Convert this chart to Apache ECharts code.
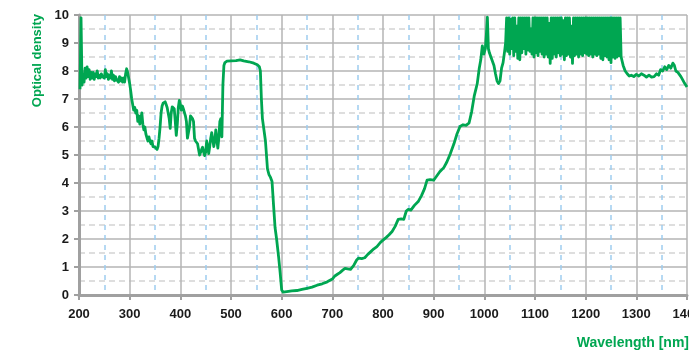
<!DOCTYPE html>
<html>
<head>
<meta charset="utf-8">
<script src="https://cdn.jsdelivr.net/npm/echarts@6/dist/echarts.min.js"></script>
<style>
html,body{margin:0;padding:0;background:#fff;}
#chart{width:689px;height:353px;}
</style>
</head>
<body>
<div id="chart"></div>
<script>
// Wavelength axis ticks (nm)
var xTicks = [200, 300, 400, 500, 600, 700, 800, 900, 1000, 1100, 1200, 1300, 1400];
// Optical density axis ticks
var yTicks = [0, 1, 2, 3, 4, 5, 6, 7, 8, 9, 10];

// Spectrum: [wavelength nm, optical density]
var spectrumUV = [
  [202,7.35],[204,9.9],[206,7.5],[208,7.9],[210,7.6],[212,8.1],[214,7.75],[216,8.15],[218,7.8],[220,8.05],
  [222,7.7],[224,7.95],[226,7.75],[228,7.95],[230,7.7],[232,7.9],[234,7.8],[236,8.0],[238,7.75],[240,7.85],
  [242,7.75],[244,7.9],[246,7.8],[248,7.85],[250,7.75],[252,8.05],[254,7.8],[256,7.9],[258,7.7],[260,7.85],
  [262,7.75],[264,8.0],[266,7.7],[268,7.85],[270,7.65],[272,7.8],[274,7.7],[276,7.75],[278,7.6],[280,7.8],
  [282,7.65],[284,7.75],[286,7.6],[288,7.75],[290,7.6],[292,7.9],[294,8.08],[296,7.95],[298,8.0],[300,7.55],
  [302,7.3],[304,7.0],[306,6.95],[308,6.6],[310,6.7],[312,6.5],[314,6.6],[316,6.2],[318,6.4],[320,6.1],
  [322,6.3],[324,6.5],[326,6.1],[328,5.9],[330,6.0],[332,5.75],[334,5.8],[336,5.5],[338,5.65],[340,5.5],
  [342,5.4],[344,5.5],[346,5.3],[348,5.35],[350,5.28],[352,5.25],[354,5.2],[356,5.3],[358,5.6],[360,6.0],
  [362,6.5],[364,6.75],[366,6.85],[368,6.8],[370,6.9],[372,6.8],[374,6.7],[376,6.75],[378,6.3],[380,5.95],
  [382,6.5],[384,6.72],[386,6.7],[388,6.65],[390,6.2],[392,5.7],[394,6.1],[396,6.7],[398,6.95],[400,6.8],
  [402,6.6],[404,6.75],[406,6.65],[408,6.7],[410,6.4],[412,6.2],[414,5.6],[416,5.55],[418,6.0],[420,6.4],
  [422,6.35],[424,6.3],[426,6.2],[428,5.6],[430,5.5],[432,5.45],[434,5.4],[436,5.2],[438,5.0],[440,5.05],
  [442,5.2],[444,5.28],[446,5.1],[448,4.98],[450,5.1],[452,5.5],[454,5.3],[456,5.05],[458,5.3],[460,5.6],
  [462,5.8],[464,5.8],[466,5.3],[468,5.5],[470,5.9],[472,5.9],[474,5.25],[476,5.6],[478,6.2],[480,6.3],
  [482,5.65],[484,7.5],[486,8.2],[488,8.3],[492,8.35],[500,8.36],[510,8.37],[518,8.40],[525,8.36],[535,8.33],
  [545,8.28],[552,8.22],[556,8.15],[558,8.0],[560,7.0],[562,6.3],[565,5.9],[568,5.5],[572,4.5],[575,4.3],
  [578,4.2],[581,4.05],[584,3.2],[587,2.4],[590,2.0],[594,1.35],[597,0.8],[600,0.18],[603,0.1]
];
var spectrumVis = [
  [610,0.12],[620,0.15],[630,0.16],[640,0.2],[650,0.24],[660,0.28],[670,0.35],[680,0.4],[690,0.47],[700,0.57],
  [705,0.68],[710,0.74],[715,0.8],[720,0.88],[725,0.95],[730,0.93],[736,0.92],[742,1.05],[748,1.25],[752,1.32],
  [758,1.3],[764,1.33],[770,1.45],[776,1.55],[782,1.65],[788,1.73],[795,1.88],[800,1.96],[806,2.05],[812,2.15],
  [818,2.27],[824,2.45],[830,2.7],[836,2.72],[841,2.7],[846,3.0],[850,3.06],[855,3.03],[862,3.2],[870,3.35],
  [876,3.55],[882,3.8],[887,4.1],[893,4.12],[900,4.1],[906,4.25],[912,4.4],[920,4.55],[926,4.75],[933,5.05],
  [940,5.4],[946,5.75],[952,6.02],[958,6.08],[964,6.06],[970,6.15],[975,6.55],[980,7.1],[986,7.55],[990,8.1],
  [993,8.4],[996,8.9],[999,8.6],[1002,8.8],[1004,9.3],[1006,9.92],[1008,8.8],[1010,8.65],[1013,8.5],[1016,8.45],
  [1019,8.2],[1022,7.9],[1025,7.65],[1028,7.55],[1031,7.65],[1034,8.1],[1037,8.3],[1040,8.7],[1042,9.0],[1044,9.9]
];
var spectrumNIR = [
  [1046,8.7],[1048,9.9],[1050,8.6],[1052,9.85],[1054,8.8],[1056,9.9],[1058,8.55],[1060,9.9],[1062,8.7],[1064,9.6],
  [1066,8.45],[1068,9.9],[1070,8.4],[1072,9.9],[1074,8.65],[1076,9.9],[1078,8.8],[1080,9.9],[1082,8.6],[1084,9.9],
  [1086,8.75],[1088,9.9],[1090,8.7],[1092,9.5],[1094,8.6],[1096,9.9],[1098,8.5],[1100,9.9],[1102,8.65],[1104,9.9],
  [1106,8.55],[1108,9.9],[1110,8.7],[1112,9.9],[1114,8.6],[1116,9.9],[1118,8.5],[1120,9.9],[1122,8.6],[1124,9.9],
  [1126,8.5],[1128,9.7],[1130,8.27],[1132,9.9],[1134,8.45],[1136,9.9],[1138,8.6],[1140,9.9],[1142,8.5],[1144,9.9],
  [1146,8.65],[1148,9.9],[1150,8.55],[1152,9.9],[1154,8.6],[1156,9.8],[1158,8.4],[1160,9.9],[1162,8.55],[1164,9.9],
  [1166,8.6],[1168,9.9],[1170,8.5],[1172,9.6],[1174,8.27],[1176,9.9],[1178,8.55],[1180,9.9],[1182,8.6],[1184,9.9],
  [1186,8.5],[1188,9.9],[1190,8.6],[1192,9.9],[1194,8.55],[1196,9.9],[1198,8.65],[1200,9.9],[1202,8.6],[1204,9.9],
  [1206,8.55],[1208,9.9],[1210,8.6],[1212,9.9],[1214,8.5],[1216,9.9],[1218,8.6],[1220,9.9],[1222,8.55],[1224,9.9],
  [1226,8.6],[1228,9.9],[1230,8.45],[1232,9.9],[1234,8.4],[1236,9.9],[1238,8.55],[1240,9.9],[1242,8.5],[1244,9.9],
  [1246,8.4],[1248,9.9],[1250,8.3],[1252,9.9],[1254,8.5],[1256,9.9],[1258,8.45],[1260,9.9],[1262,8.5],[1264,9.9],
  [1266,8.55],[1268,9.9],[1270,8.5],
  [1274,8.2],[1278,8.0],[1282,7.9],[1286,7.82],[1290,7.85],[1295,7.8],[1300,7.88],[1305,7.82],[1310,7.9],[1315,7.85],
  [1320,7.78],[1325,7.85],[1330,7.78],[1335,7.8],[1340,7.9],[1344,7.85],[1348,8.05],[1352,8.0],[1356,8.15],[1360,8.05],
  [1364,8.2],[1368,8.1],[1372,8.28],[1375,8.2],[1378,8.0],[1382,7.95],[1388,7.8],[1394,7.6],[1400,7.43]
];
var spectrum = spectrumUV.concat(spectrumVis, spectrumNIR);

var FONT = "'Liberation Sans Narrow','Liberation Sans',Arial,sans-serif";
var GREEN = '#00a651';

var chart = echarts.init(document.getElementById('chart'), null, {renderer: 'canvas'});
chart.setOption({
  animation: false,
  backgroundColor: '#ffffff',
  grid: {left: 79, right: 2, top: 15, bottom: 58, containLabel: false, outerBoundsMode: 'none'},
  xAxis: {
    type: 'value',
    min: xTicks[0], max: xTicks[xTicks.length - 1], interval: 100,
    axisLine: {show: true, lineStyle: {color: '#a0a0a0', width: 3}},
    axisTick: {show: true, length: 5, lineStyle: {color: '#a0a0a0', width: 2}},
    axisLabel: {color: '#1a1a1a', fontFamily: FONT, fontWeight: 'bold', fontSize: 13, margin: 13,
      formatter: function (v) { return String(v); }},
    splitLine: {show: true, lineStyle: {color: '#b4b4b4', width: 1.5}},
    minorTick: {show: false, splitNumber: 2},
    minorSplitLine: {show: true, lineStyle: {color: '#9fcdef', width: 1.5, type: [5, 5]}}
  },
  yAxis: {
    type: 'value',
    min: yTicks[0], max: yTicks[yTicks.length - 1], interval: 1,
    axisLine: {show: true, lineStyle: {color: '#a0a0a0', width: 3}},
    axisTick: {show: true, length: 5, lineStyle: {color: '#a0a0a0', width: 2}},
    axisLabel: {color: '#1a1a1a', fontFamily: FONT, fontWeight: 'bold', fontSize: 13, margin: 10,
      formatter: function (v) { return String(v); }},
    splitLine: {show: true, lineStyle: {color: '#b4b4b4', width: 1.5}},
    minorTick: {show: false, splitNumber: 2},
    minorSplitLine: {show: true, lineStyle: {color: '#d4d4d4', width: 1.5, type: [6, 4]}}
  },
  series: [{
    type: 'line',
    data: spectrum,
    showSymbol: false,
    symbol: 'none',
    lineStyle: {color: GREEN, width: 2.8, join: 'round'},
    z: 5
  }],
  graphic: [
    {
      type: 'text', left: 31, top: 14, rotation: Math.PI / 2,
      style: {text: 'Optical density', fill: GREEN, font: "bold 13px " + FONT}
    },
    {
      type: 'text', right: 0, top: 336,
      style: {text: 'Wavelength [nm]', fill: GREEN, font: "bold 14px " + FONT}
    }
  ]
});
</script>
</body>
</html>
